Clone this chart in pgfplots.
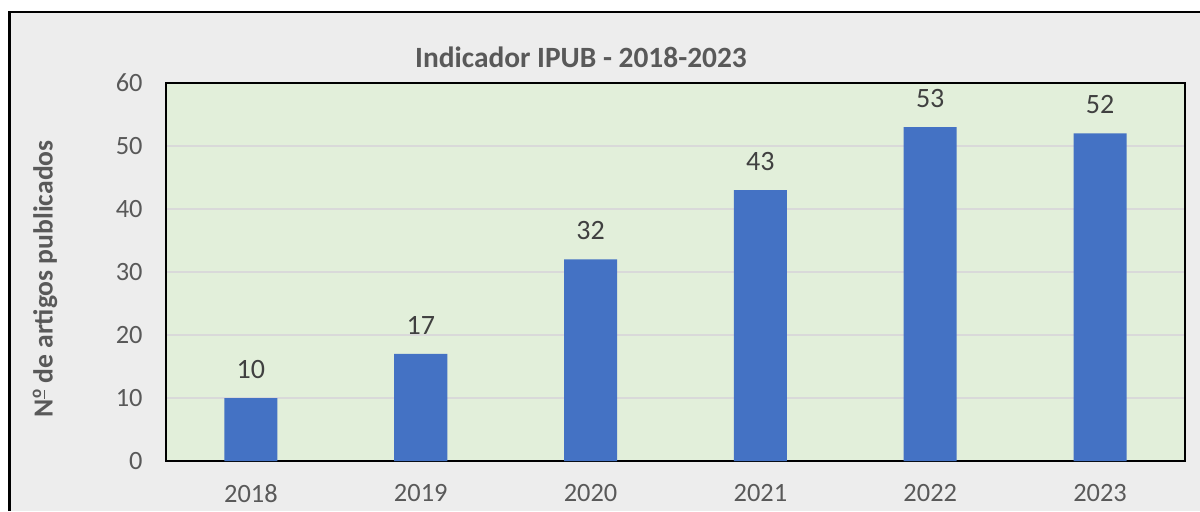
\documentclass[border=0pt]{standalone}
\usepackage{fontspec}
\setmainfont{Carlito}
\usepackage{pgfplots}
\pgfplotsset{compat=1.18}
\definecolor{bgray}{HTML}{EDEDED}
\definecolor{pgreen}{HTML}{E2EFDA}
\definecolor{barblue}{HTML}{4472C4}
\definecolor{txtgray}{HTML}{595959}
\definecolor{lblgray}{HTML}{404040}
\definecolor{gridgray}{HTML}{D9D9D9}
\begin{document}
\begin{tikzpicture}
\fill[white] (0,0) rectangle (600pt,255.5pt);
\fill[bgray] (4.75pt,0) rectangle (600pt,249.5pt);
\draw[black, line width=1.2pt] (4.75pt,0) -- (4.75pt,249.5pt) -- (600pt,249.5pt);
\begin{axis}[
  at={(83pt,25pt)}, anchor=south west,
  scale only axis, width=509.5pt, height=189pt,
  xmin=-0.5, xmax=5.5, ymin=0, ymax=60,
  ytick={0,10,...,60},
  xtick={0,1,2,3,4,5},
  xticklabels={2018,2019,2020,2021,2022,2023},
  axis background/.style={fill=pgreen},
  ymajorgrids, grid style={gridgray, line width=0.75pt},
  major tick length=0pt,
  axis line style={black, line width=0.6pt},
  ticklabel style={font=\fontsize{13.2}{15}\selectfont, text=txtgray},
  /pgf/number format/assume math mode=true,
  yticklabel style={anchor=east, inner sep=0pt, xshift=-11.5pt},
  xticklabel style={anchor=north, inner sep=0pt, yshift=-11.5pt},
  nodes near coords,
  nodes near coords style={anchor=south, inner sep=0pt, yshift=9.5pt,
     font=\fontsize{14}{16}\selectfont, text=lblgray},
]
\addplot[ybar, bar width=26.5pt, fill=barblue, draw=none]
  coordinates {(0,10) (1,17) (2,32) (3,43) (4,53) (5,52)};
\end{axis}
\node[anchor=base, font=\bfseries\fontsize{14.7}{17}\selectfont, text=txtgray, inner sep=0pt]
  at (290.5pt,222pt) {Indicador IPUB - 2018-2023};
\node[rotate=90, font=\bfseries\fontsize{13.8}{16}\selectfont, text=txtgray, inner sep=0pt]
  at (22.5pt,116pt) {N\kern0.3pt\raisebox{0.42em}{\fontsize{8.5}{9}\selectfont\underline{o}} de artigos publicados};
\pgfresetboundingbox
\useasboundingbox (0,0) rectangle (600pt,255.5pt);
\end{tikzpicture}
\end{document}
